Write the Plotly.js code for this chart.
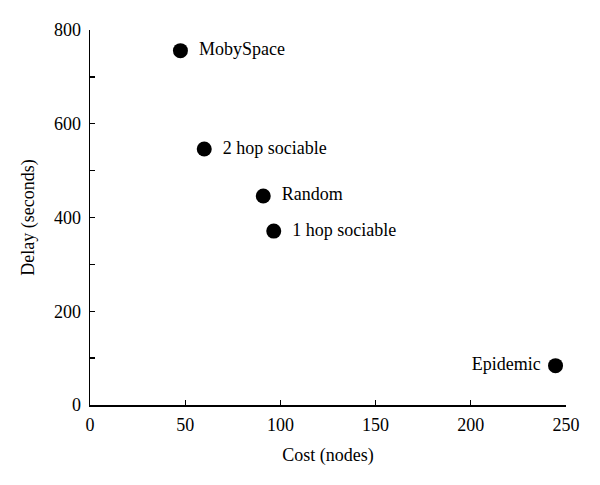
<!DOCTYPE html>
<html>
<head>
<meta charset="utf-8">
<script src="https://cdn.plot.ly/plotly-3.0.1.min.js"></script>
<style>html,body{margin:0;padding:0;background:#fff;}#chart{width:600px;height:485px;}</style>
</head>
<body>
<div id="chart"></div>
<script>
const schemes = ["MobySpace", "2 hop sociable", "Random", "1 hop sociable", "Epidemic"];
const costNodes = [47.5, 60, 91, 96.5, 244.5];
const delaySeconds = [756, 546, 446, 371, 84];
const labelSide = ["middle right", "middle right", "middle right", "middle right", "middle left"];
const xTicks = [0, 50, 100, 150, 200, 250];
const yTicks = [0, 100, 200, 300, 400, 500, 600, 700, 800];
const yTickLabels = ["0", "", "200", "", "400", "", "600", "", "800"];

const fontFam = "Liberation Serif, Times New Roman, serif";

const trace = {
  type: "scatter",
  mode: "markers+text",
  x: costNodes,
  y: delaySeconds,
  text: schemes.map((s, i) => labelSide[i] === "middle left" ? s + " " : "\u2009 " + s),
  textposition: labelSide,
  textfont: {family: fontFam, size: 18, color: "#000"},
  marker: {size: 15, color: "#000"},
  cliponaxis: false,
  hoverinfo: "skip"
};

const layout = {
  width: 600, height: 485,
  margin: {l: 90, r: 34, t: 30, b: 80},
  paper_bgcolor: "#fff", plot_bgcolor: "#fff",
  showlegend: false,
  font: {family: fontFam, size: 18, color: "#000"},
  xaxis: {
    range: [0, 250], tickvals: xTicks, ticktext: xTicks.map(String),
    ticks: "inside", ticklen: 5, tickwidth: 1.3, tickcolor: "#000",
    ticklabelstandoff: 3,
    showline: true, linecolor: "#000", linewidth: 1.5,
    showgrid: false, zeroline: false,
    title: {text: "Cost (nodes)", font: {family: fontFam, size: 18}, standoff: 14},
    tickfont: {family: fontFam, size: 18}
  },
  yaxis: {
    range: [0, 800], tickvals: yTicks, ticktext: yTickLabels,
    ticks: "inside", ticklen: 5, tickwidth: 1.3, tickcolor: "#000",
    ticklabelstandoff: 4,
    showline: true, linecolor: "#000", linewidth: 1.5,
    showgrid: false, zeroline: false,
    title: {text: "Delay (seconds)", font: {family: fontFam, size: 18}, standoff: 14},
    tickfont: {family: fontFam, size: 18}
  }
};

Plotly.newPlot("chart", [trace], layout, {displayModeBar: false, staticPlot: true});
</script>
</body>
</html>
